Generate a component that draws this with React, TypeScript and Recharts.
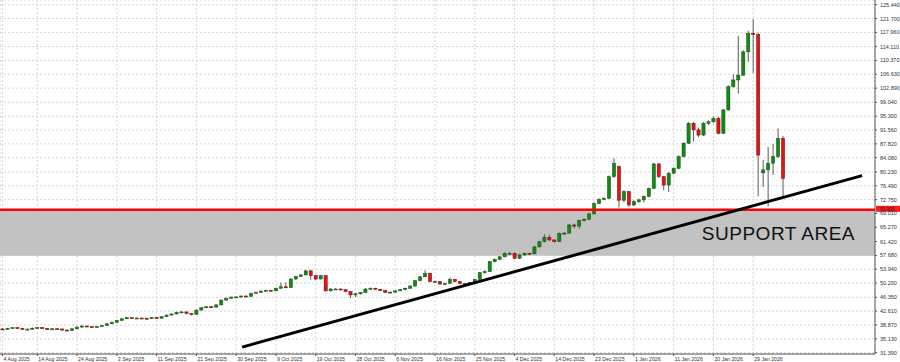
import React from 'react';
import { ComposedChart, Bar, XAxis, YAxis, CartesianGrid, ReferenceArea, ReferenceLine } from 'recharts';

// daily candles, Aug 2025 - Jan 2026
const opens = [
  37.8, 37.7, 37.95, 38.15, 38.0, 37.7, 37.75, 38.0, 38.15, 37.9, 37.8, 37.85, 37.8, 37.5, 37.4, 37.85, 38.3, 38.6, 38.4, 38.35,
  38.4, 38.7, 39.2, 39.6, 40.1, 40.55, 40.85, 40.7, 40.75, 40.7, 40.6, 40.85, 40.7, 41.1, 41.55, 41.85, 42.3, 42.4, 41.95, 41.75,
  42.9, 43.55, 43.8, 43.7, 44.3, 45.6, 46.1, 46.4, 46.45, 46.7, 46.6, 47.45, 47.7, 48.05, 48.25, 48.1, 48.8, 49.2, 49.0, 51.3,
  52.0, 52.4, 53.5, 52.2, 51.3, 52.2, 48.1, 48.6, 48.6, 48.4, 47.9, 47.0, 47.3, 47.6, 48.6, 48.8, 48.5, 48.2, 47.7, 47.75,
  48.1, 48.4, 48.8, 49.4, 50.85, 51.9, 52.85, 50.6, 50.6, 49.95, 50.1, 51.2, 50.6, 50.1, 49.9, 50.3, 51.2, 53.0, 53.3, 56.0,
  56.6, 57.3, 58.25, 58.25, 56.9, 57.8, 58.25, 58.1, 60.0, 61.4, 62.6, 61.85, 61.4, 63.65, 63.7, 65.9, 65.6, 67.05, 67.45, 68.9,
  71.7, 72.8, 73.1, 78.95, 81.65, 72.6, 74.9, 71.3, 72.2, 72.7, 73.6, 75.8, 82.4, 78.95, 76.7, 79.9, 81.2, 84.4, 88.0, 93.4,
  91.6, 90.2, 93.4, 93.8, 94.7, 90.7, 97.0, 103.3, 105.1, 106.4, 112.7, 117.7, 117.4, 80.0, 80.8, 82.6, 84.4, 89.3,
];
const closes = [
  37.7, 37.95, 38.15, 38.0, 37.7, 37.75, 38.0, 38.15, 37.9, 37.8, 37.85, 37.8, 37.5, 37.4, 37.85, 38.3, 38.6, 38.4, 38.35, 38.4,
  38.7, 39.2, 39.6, 40.1, 40.55, 40.85, 40.7, 40.75, 40.7, 40.6, 40.85, 40.7, 41.1, 41.55, 41.85, 42.3, 42.4, 41.95, 41.75, 42.9,
  43.55, 43.8, 43.7, 44.3, 45.6, 46.1, 46.4, 46.45, 46.7, 46.6, 47.45, 47.7, 48.05, 48.25, 48.1, 48.8, 49.2, 49.0, 51.3, 52.0,
  52.4, 53.5, 52.2, 51.3, 52.2, 48.1, 48.6, 48.6, 48.4, 47.9, 47.0, 47.3, 47.6, 48.6, 48.8, 48.5, 48.2, 47.7, 47.75, 48.1,
  48.4, 48.8, 49.4, 50.85, 51.9, 52.85, 50.6, 50.6, 49.95, 50.1, 51.2, 50.6, 50.1, 49.9, 50.3, 51.2, 53.0, 53.3, 56.0, 56.6,
  57.3, 58.25, 58.25, 56.9, 57.8, 58.25, 58.1, 60.0, 61.4, 62.6, 61.85, 61.4, 63.65, 63.7, 65.9, 65.6, 67.05, 67.45, 68.9, 71.7,
  72.8, 73.1, 78.95, 82.6, 72.6, 74.9, 71.3, 72.2, 72.7, 73.6, 75.8, 82.4, 78.95, 76.7, 79.9, 81.2, 84.4, 88.0, 93.4, 91.6,
  90.2, 93.4, 93.8, 94.7, 90.7, 97.0, 103.3, 105.1, 106.4, 112.7, 117.7, 117.6, 84.8, 80.8, 82.6, 84.4, 89.3, 78.5,
];
const highs = [
  38.0, 38.1, 38.3, 38.3, 38.1, 37.95, 38.15, 38.35, 38.3, 38.05, 38.0, 38.0, 37.9, 37.7, 38.0, 38.45, 38.8, 38.75, 38.55, 38.6,
  38.85, 39.35, 39.8, 40.3, 40.7, 41.05, 41.0, 40.95, 40.9, 40.85, 41.0, 41.0, 41.25, 41.7, 42.0, 42.45, 42.6, 42.5, 42.1, 43.05,
  43.7, 43.95, 43.95, 44.45, 45.75, 46.3, 46.6, 46.65, 46.9, 46.85, 47.6, 47.9, 48.2, 48.4, 48.4, 49.0, 50.3, 50.4, 51.5, 52.2,
  52.6, 53.7, 53.8, 52.4, 52.4, 52.3, 48.8, 48.8, 48.75, 48.5, 48.0, 47.5, 47.8, 48.8, 49.0, 48.9, 48.6, 48.3, 47.95, 48.3,
  48.6, 49.0, 49.6, 51.0, 52.1, 53.6, 53.0, 50.85, 50.7, 50.3, 51.7, 51.3, 50.7, 50.2, 50.5, 51.4, 53.2, 53.6, 56.2, 56.9,
  57.5, 58.5, 58.6, 58.5, 58.1, 58.5, 58.4, 60.2, 61.6, 63.4, 63.3, 62.0, 63.9, 64.0, 66.2, 66.3, 67.3, 67.7, 69.2, 72.0,
  73.1, 73.4, 79.3, 83.9, 82.0, 75.3, 75.1, 72.6, 73.0, 73.9, 76.0, 82.7, 82.6, 79.2, 80.2, 81.5, 84.7, 88.3, 93.7, 93.8,
  92.2, 93.7, 94.2, 95.2, 95.1, 97.3, 103.6, 106.6, 117.0, 113.1, 118.4, 121.5, 117.9, 83.5, 87.0, 87.8, 92.0, 90.0,
];
const lows = [
  37.5, 37.6, 37.9, 37.85, 37.55, 37.5, 37.6, 37.9, 37.75, 37.6, 37.65, 37.6, 37.3, 37.2, 37.3, 37.7, 38.2, 38.25, 38.15, 38.2,
  38.3, 38.6, 39.1, 39.5, 40.0, 40.45, 40.5, 40.55, 40.5, 40.4, 40.5, 40.55, 40.6, 41.0, 41.45, 41.75, 42.15, 41.8, 41.5, 41.65,
  42.8, 43.4, 43.5, 43.6, 44.2, 45.5, 46.0, 46.2, 46.3, 46.35, 46.5, 47.3, 47.6, 47.9, 47.95, 48.0, 48.7, 48.8, 48.9, 51.1,
  51.8, 52.3, 51.1, 51.0, 51.2, 47.9, 47.9, 48.4, 48.2, 47.7, 46.1, 46.4, 47.1, 47.5, 48.4, 48.3, 48.0, 47.5, 47.5, 47.6,
  48.0, 48.3, 48.7, 49.3, 50.7, 51.8, 50.4, 50.3, 49.7, 49.7, 50.0, 50.4, 49.9, 49.6, 49.7, 50.2, 51.1, 52.7, 53.2, 55.8,
  56.4, 57.2, 57.9, 56.6, 56.7, 57.6, 57.8, 58.0, 59.8, 61.2, 61.6, 61.1, 61.3, 63.3, 63.6, 65.0, 64.9, 66.9, 67.3, 68.7,
  71.5, 72.6, 73.0, 78.7, 70.6, 72.0, 70.8, 71.0, 71.9, 72.0, 73.4, 75.6, 78.6, 75.3, 74.8, 79.6, 81.0, 84.2, 87.8, 88.5,
  89.7, 90.0, 93.0, 93.5, 90.4, 90.5, 96.8, 103.0, 101.4, 106.2, 110.0, 107.0, 73.6, 76.2, 70.9, 79.5, 84.0, 73.5,
];

const dateLabels = [
  '4 Aug 2025', '14 Aug 2025', '24 Aug 2025', '3 Sep 2025', '11 Sep 2025', '21 Sep 2025', '30 Sep 2025', '9 Oct 2025',
  '19 Oct 2025', '28 Oct 2025', '6 Nov 2025', '16 Nov 2025', '25 Nov 2025', '4 Dec 2025', '14 Dec 2025', '23 Dec 2025',
  '1 Jan 2026', '11 Jan 2026', '20 Jan 2026', '29 Jan 2026',
];
const dateTickBars = [0, 7, 15, 23, 31, 39, 47, 55, 63, 71, 79, 87, 95, 103, 111, 119, 127, 135, 143, 151];

const priceTicks = [
  125.44, 121.7, 117.96, 114.11, 110.37, 106.63, 102.89, 99.04, 95.3, 91.56, 87.82, 84.08, 80.23,
  76.49, 72.75, 69.01, 65.27, 61.42, 57.68, 53.94, 50.2, 46.35, 42.61, 38.87, 35.13, 31.39,
];

const supportTop = 70.0;
const supportBottom = 57.6;
const trendStart = { bar: 48.7, price: 32.9 };
const trendEnd = { bar: 173.4, price: 79.25 };

const FONT = '"Liberation Sans", Arial, sans-serif';

const data = closes.map((c, i) => ({
  pos: i + 0.5,
  open: opens[i],
  close: c,
  high: highs[i],
  low: lows[i],
  range: [lows[i], highs[i]],
}));

const Candle = (props: any) => {
  const { x, y, width, height, payload } = props;
  const top = Math.min(y, y + height);
  const bottom = Math.max(y, y + height);
  const span = payload.high - payload.low || 1;
  const py = (v: number) => top + ((payload.high - v) / span) * (bottom - top);
  const cx = x + width / 2;
  const up = payload.close >= payload.open;
  const bTop = py(Math.max(payload.open, payload.close));
  const bBot = py(Math.min(payload.open, payload.close));
  return (
    <g>
      <line x1={cx} x2={cx} y1={top} y2={bottom} stroke="#5a5a5a" strokeWidth={1} />
      <rect
        x={cx - 1.6}
        y={bTop}
        width={3.2}
        height={Math.max(bBot - bTop, 1)}
        fill={up ? '#118a11' : '#e41414'}
        stroke={up ? '#1f4d1f' : '#6a1010'}
        strokeWidth={0.5}
      />
    </g>
  );
};

const DateTick = (props: any) => {
  const { x, y, index } = props;
  return (
    <text x={x + 1} y={y + 2.5} fontSize={5.2} fill="#333" textAnchor="start" fontFamily={FONT}>
      {dateLabels[index]}
    </text>
  );
};

const PriceTick = (props: any) => {
  const { x, y, payload } = props;
  return (
    <text x={x + 1} y={y + 2} fontSize={5.5} fill="#333" textAnchor="start" fontFamily={FONT}>
      {payload.value.toFixed(3)}
    </text>
  );
};

const PriceTag = (props: any) => {
  const { viewBox } = props;
  const y = viewBox.y;
  const x = viewBox.x + viewBox.width;
  return (
    <g>
      <rect x={x + 1} y={y - 4} width={24} height={6} fill="#ff1a1a" />
      <text x={x + 4} y={y + 0.8} fontSize={5} fill="#222" fontFamily={FONT}>
        {supportTop.toFixed(3)}
      </text>
    </g>
  );
};

export default function App() {
  return (
    <div style={{ position: 'absolute', left: 0, top: 0, background: '#fff' }}>
      <ComposedChart width={900} height={362} data={data} margin={{ top: 0, right: 0, bottom: 0, left: 0 }}>
        <CartesianGrid stroke="#d6d6d6" strokeDasharray="2 2" />
        <ReferenceArea
          y1={supportBottom}
          y2={supportTop}
          fill="#c2c2c2"
          fillOpacity={1}
          stroke="none"
          label={{ value: 'SUPPORT AREA', position: 'insideRight', offset: 20, fill: '#111', fontSize: 19, fontFamily: FONT, letterSpacing: 0.5 }}
        />
        <XAxis
          dataKey="pos"
          type="number"
          domain={[0, 176]}
          ticks={dateTickBars.map((b) => b + 0.5)}
          interval={0}
          height={8}
          tickSize={2}
          stroke="#555"
          tick={<DateTick />}
          allowDataOverflow
        />
        <YAxis
          orientation="right"
          type="number"
          domain={[31.03, 126.71]}
          ticks={priceTicks}
          interval={0}
          width={25}
          tickSize={2}
          stroke="#555"
          tick={<PriceTick />}
          allowDataOverflow
        />
        <Bar dataKey="range" barSize={3} shape={<Candle />} isAnimationActive={false} />
        <ReferenceLine y={supportTop} stroke="#ff0000" strokeWidth={2.5} label={<PriceTag />} />
        <ReferenceLine
          segment={[
            { x: trendStart.bar, y: trendStart.price },
            { x: trendEnd.bar, y: trendEnd.price },
          ]}
          stroke="#000"
          strokeWidth={3}
          ifOverflow="visible"
        />
      </ComposedChart>
    </div>
  );
}
